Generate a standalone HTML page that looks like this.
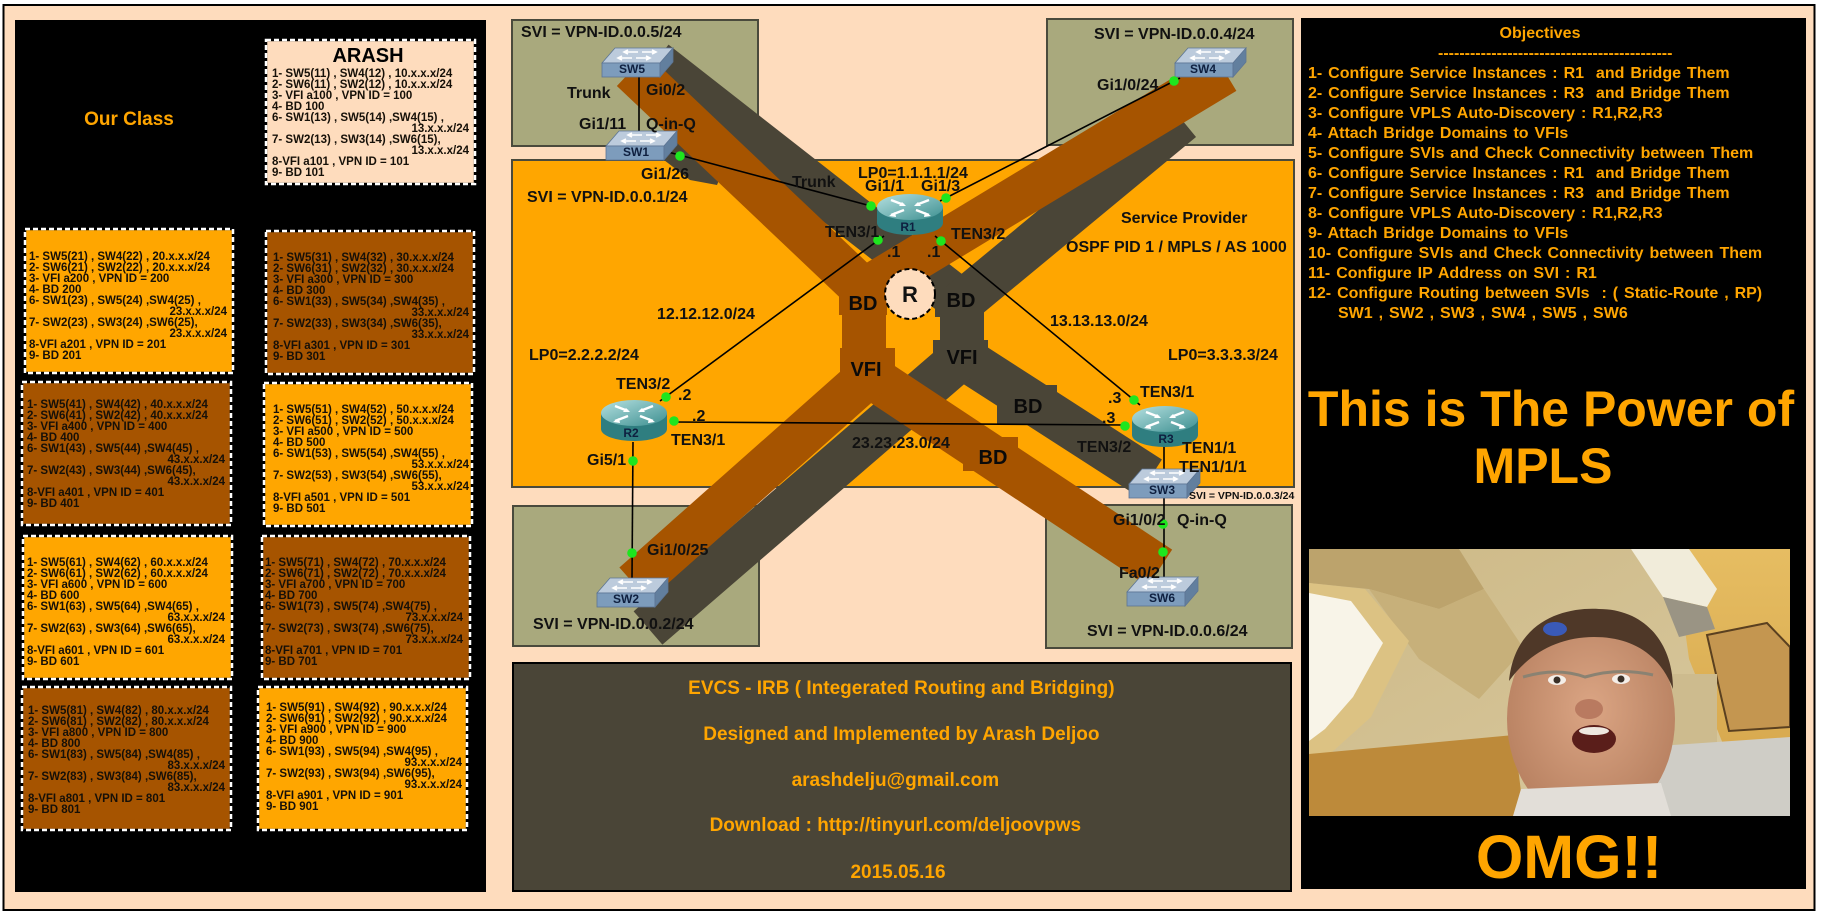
<!DOCTYPE html>
<html><head><meta charset="utf-8">
<style>
html,body{margin:0;padding:0;background:#fff;}
svg{display:block;}
text{font-family:"Liberation Sans",Arial,sans-serif;font-weight:bold;}
.t{font-size:11.5px;fill:#161008;}
.d{font-size:16px;fill:#111;}
.o{font-size:16px;fill:#ffa500;word-spacing:1.5px;}
.i{font-size:19px;fill:#ffa500;}
.s{font-size:12px;fill:#0e1f3f;}
.b{font-size:20px;fill:#0a0a0a;}
</style></head><body>
<svg width="1844" height="915" viewBox="0 0 1844 915" xmlns="http://www.w3.org/2000/svg">
<defs>
 <g id="sw">
  <polygon points="13,1 71,1 58,16 0,16" fill="#bccbdc" stroke="#5d7594" stroke-width="0.8"/>
  <rect x="0" y="16" width="58" height="14" fill="#7d9cbc" stroke="#5d7594" stroke-width="0.8"/>
  <polygon points="58,16 71,1 71,15 58,30" fill="#627f9e" stroke="#5d7594" stroke-width="0.8"/>
  <path d="M22,5 h14 M26,3 l-4,2 l4,2 M40,5 h14 M50,3 l4,2 l-4,2 M16,11 h14 M20,9 l-4,2 l4,2 M34,11 h14 M44,9 l4,2 l-4,2" stroke="#fff" stroke-width="1.6" fill="none"/>
 </g>
 <linearGradient id="rg" x1="0" y1="0" x2="1" y2="1">
  <stop offset="0" stop-color="#b5e0e0"/><stop offset="1" stop-color="#3d8f90"/>
 </linearGradient>
 <g id="rt">
  <path d="M0,14 V30 A33,12 0 0 0 66,30 V14 Z" fill="#2f7e80"/>
  <ellipse cx="33" cy="14" rx="33" ry="13" fill="url(#rg)"/>
  <path d="M14,7 L27,12 M52,7 L39,12 M27,17 L14,22 M39,17 L52,22" stroke="#fff" stroke-width="2.4" fill="none"/>
  <polygon points="29,13 22,13 25,9" fill="#fff"/>
  <polygon points="37,13 44,13 41,9" fill="#fff"/>
  <polygon points="12,23 18,19 19,24" fill="#fff"/>
  <polygon points="54,23 48,19 47,24" fill="#fff"/>
 </g>
 <linearGradient id="ceil" x1="0" y1="0" x2="1" y2="1">
  <stop offset="0" stop-color="#cdb986"/><stop offset="1" stop-color="#d9c9a0"/>
 </linearGradient>
 <linearGradient id="wall" x1="0" y1="0" x2="0" y2="1">
  <stop offset="0" stop-color="#e6bd62"/><stop offset="1" stop-color="#d7a84e"/>
 </linearGradient>
 <radialGradient id="skin" cx="0.5" cy="0.45" r="0.6">
  <stop offset="0" stop-color="#dba584"/><stop offset="1" stop-color="#b57e5e"/>
 </radialGradient>
 <clipPath id="pc"><rect width="481" height="267"/></clipPath>
</defs>

<!-- outer frame -->
<rect x="0" y="0" width="1844" height="915" fill="#fff"/>
<rect x="3.5" y="5" width="1811" height="905" fill="#fedcbd" stroke="#000" stroke-width="2"/>

<!-- LEFT PANEL -->
<rect x="15" y="20" width="471" height="872" fill="#000"/>
<text x="129" y="125" text-anchor="middle" style="font-size:19px;fill:#ffa500">Our Class</text>

<g stroke-width="2.5">
<rect x="266" y="40" width="209" height="144" fill="#fedcbd" stroke="#000"/>
<rect x="266" y="40" width="209" height="144" fill="none" stroke="#fff" stroke-dasharray="5,3"/>
<rect x="25" y="229" width="208" height="144" fill="#ffa600" stroke="#000"/>
<rect x="25" y="229" width="208" height="144" fill="none" stroke="#fff" stroke-dasharray="5,3"/>
<rect x="266" y="231" width="208" height="143" fill="#a65400" stroke="#000"/>
<rect x="266" y="231" width="208" height="143" fill="none" stroke="#fff" stroke-dasharray="5,3"/>
<rect x="22" y="382" width="209" height="143" fill="#a65400" stroke="#000"/>
<rect x="22" y="382" width="209" height="143" fill="none" stroke="#fff" stroke-dasharray="5,3"/>
<rect x="264" y="383" width="208" height="143" fill="#ffa600" stroke="#000"/>
<rect x="264" y="383" width="208" height="143" fill="none" stroke="#fff" stroke-dasharray="5,3"/>
<rect x="23" y="536" width="209" height="143" fill="#ffa600" stroke="#000"/>
<rect x="23" y="536" width="209" height="143" fill="none" stroke="#fff" stroke-dasharray="5,3"/>
<rect x="262" y="536" width="208" height="143" fill="#a65400" stroke="#000"/>
<rect x="262" y="536" width="208" height="143" fill="none" stroke="#fff" stroke-dasharray="5,3"/>
<rect x="22" y="687" width="209" height="143" fill="#a65400" stroke="#000"/>
<rect x="22" y="687" width="209" height="143" fill="none" stroke="#fff" stroke-dasharray="5,3"/>
<rect x="258" y="687" width="209" height="143" fill="#ffa600" stroke="#000"/>
<rect x="258" y="687" width="209" height="143" fill="none" stroke="#fff" stroke-dasharray="5,3"/>
</g>

<text x="368" y="62" text-anchor="middle" style="font-size:20px;fill:#000">ARASH</text>
<text class="t" xml:space="preserve"><tspan x="272" y="77">1- SW5(11) , SW4(12) , 10.x.x.x/24</tspan><tspan x="272" y="88">2- SW6(11) , SW2(12) , 10.x.x.x/24</tspan><tspan x="272" y="99">3- VFI a100 , VPN ID = 100</tspan><tspan x="272" y="110">4- BD 100</tspan><tspan x="272" y="121">6- SW1(13) , SW5(14) ,SW4(15) ,</tspan><tspan x="469" y="132" text-anchor="end">13.x.x.x/24</tspan><tspan x="272" y="143">7- SW2(13) , SW3(14) ,SW6(15),</tspan><tspan x="469" y="154" text-anchor="end">13.x.x.x/24</tspan><tspan x="272" y="165">8-VFI a101 , VPN ID = 101</tspan><tspan x="272" y="176">9- BD 101</tspan></text>

<text class="t"><tspan x="29" y="260">1- SW5(21) , SW4(22) , 20.x.x.x/24</tspan><tspan x="29" y="271">2- SW6(21) , SW2(22) , 20.x.x.x/24</tspan><tspan x="29" y="282">3- VFI a200 , VPN ID = 200</tspan><tspan x="29" y="293">4- BD 200</tspan><tspan x="29" y="304">6- SW1(23) , SW5(24) ,SW4(25) ,</tspan><tspan x="227" y="315" text-anchor="end">23.x.x.x/24</tspan><tspan x="29" y="326">7- SW2(23) , SW3(24) ,SW6(25),</tspan><tspan x="227" y="337" text-anchor="end">23.x.x.x/24</tspan><tspan x="29" y="348">8-VFI a201 , VPN ID = 201</tspan><tspan x="29" y="359">9- BD 201</tspan></text>

<text class="t"><tspan x="273" y="261">1- SW5(31) , SW4(32) , 30.x.x.x/24</tspan><tspan x="273" y="272">2- SW6(31) , SW2(32) , 30.x.x.x/24</tspan><tspan x="273" y="283">3- VFI a300 , VPN ID = 300</tspan><tspan x="273" y="294">4- BD 300</tspan><tspan x="273" y="305">6- SW1(33) , SW5(34) ,SW4(35) ,</tspan><tspan x="469" y="316" text-anchor="end">33.x.x.x/24</tspan><tspan x="273" y="327">7- SW2(33) , SW3(34) ,SW6(35),</tspan><tspan x="469" y="338" text-anchor="end">33.x.x.x/24</tspan><tspan x="273" y="349">8-VFI a301 , VPN ID = 301</tspan><tspan x="273" y="360">9- BD 301</tspan></text>

<text class="t"><tspan x="27" y="408">1- SW5(41) , SW4(42) , 40.x.x.x/24</tspan><tspan x="27" y="419">2- SW6(41) , SW2(42) , 40.x.x.x/24</tspan><tspan x="27" y="430">3- VFI a400 , VPN ID = 400</tspan><tspan x="27" y="441">4- BD 400</tspan><tspan x="27" y="452">6- SW1(43) , SW5(44) ,SW4(45) ,</tspan><tspan x="225" y="463" text-anchor="end">43.x.x.x/24</tspan><tspan x="27" y="474">7- SW2(43) , SW3(44) ,SW6(45),</tspan><tspan x="225" y="485" text-anchor="end">43.x.x.x/24</tspan><tspan x="27" y="496">8-VFI a401 , VPN ID = 401</tspan><tspan x="27" y="507">9- BD 401</tspan></text>

<text class="t"><tspan x="273" y="413">1- SW5(51) , SW4(52) , 50.x.x.x/24</tspan><tspan x="273" y="424">2- SW6(51) , SW2(52) , 50.x.x.x/24</tspan><tspan x="273" y="435">3- VFI a500 , VPN ID = 500</tspan><tspan x="273" y="446">4- BD 500</tspan><tspan x="273" y="457">6- SW1(53) , SW5(54) ,SW4(55) ,</tspan><tspan x="469" y="468" text-anchor="end">53.x.x.x/24</tspan><tspan x="273" y="479">7- SW2(53) , SW3(54) ,SW6(55),</tspan><tspan x="469" y="490" text-anchor="end">53.x.x.x/24</tspan><tspan x="273" y="501">8-VFI a501 , VPN ID = 501</tspan><tspan x="273" y="512">9- BD 501</tspan></text>

<text class="t"><tspan x="27" y="566">1- SW5(61) , SW4(62) , 60.x.x.x/24</tspan><tspan x="27" y="577">2- SW6(61) , SW2(62) , 60.x.x.x/24</tspan><tspan x="27" y="588">3- VFI a600 , VPN ID = 600</tspan><tspan x="27" y="599">4- BD 600</tspan><tspan x="27" y="610">6- SW1(63) , SW5(64) ,SW4(65) ,</tspan><tspan x="225" y="621" text-anchor="end">63.x.x.x/24</tspan><tspan x="27" y="632">7- SW2(63) , SW3(64) ,SW6(65),</tspan><tspan x="225" y="643" text-anchor="end">63.x.x.x/24</tspan><tspan x="27" y="654">8-VFI a601 , VPN ID = 601</tspan><tspan x="27" y="665">9- BD 601</tspan></text>

<text class="t"><tspan x="265" y="566">1- SW5(71) , SW4(72) , 70.x.x.x/24</tspan><tspan x="265" y="577">2- SW6(71) , SW2(72) , 70.x.x.x/24</tspan><tspan x="265" y="588">3- VFI a700 , VPN ID = 700</tspan><tspan x="265" y="599">4- BD 700</tspan><tspan x="265" y="610">6- SW1(73) , SW5(74) ,SW4(75) ,</tspan><tspan x="463" y="621" text-anchor="end">73.x.x.x/24</tspan><tspan x="265" y="632">7- SW2(73) , SW3(74) ,SW6(75),</tspan><tspan x="463" y="643" text-anchor="end">73.x.x.x/24</tspan><tspan x="265" y="654">8-VFI a701 , VPN ID = 701</tspan><tspan x="265" y="665">9- BD 701</tspan></text>

<text class="t"><tspan x="28" y="714">1- SW5(81) , SW4(82) , 80.x.x.x/24</tspan><tspan x="28" y="725">2- SW6(81) , SW2(82) , 80.x.x.x/24</tspan><tspan x="28" y="736">3- VFI a800 , VPN ID = 800</tspan><tspan x="28" y="747">4- BD 800</tspan><tspan x="28" y="758">6- SW1(83) , SW5(84) ,SW4(85) ,</tspan><tspan x="225" y="769" text-anchor="end">83.x.x.x/24</tspan><tspan x="28" y="780">7- SW2(83) , SW3(84) ,SW6(85),</tspan><tspan x="225" y="791" text-anchor="end">83.x.x.x/24</tspan><tspan x="28" y="802">8-VFI a801 , VPN ID = 801</tspan><tspan x="28" y="813">9- BD 801</tspan></text>

<text class="t"><tspan x="266" y="711">1- SW5(91) , SW4(92) , 90.x.x.x/24</tspan><tspan x="266" y="722">2- SW6(91) , SW2(92) , 90.x.x.x/24</tspan><tspan x="266" y="733">3- VFI a900 , VPN ID = 900</tspan><tspan x="266" y="744">4- BD 900</tspan><tspan x="266" y="755">6- SW1(93) , SW5(94) ,SW4(95) ,</tspan><tspan x="462" y="766" text-anchor="end">93.x.x.x/24</tspan><tspan x="266" y="777">7- SW2(93) , SW3(94) ,SW6(95),</tspan><tspan x="462" y="788" text-anchor="end">93.x.x.x/24</tspan><tspan x="266" y="799">8-VFI a901 , VPN ID = 901</tspan><tspan x="266" y="810">9- BD 901</tspan></text>

<!-- MIDDLE DIAGRAM: boxes -->
<g stroke="#4a4a3c" stroke-width="2">
<rect x="512" y="20" width="246" height="126" fill="#a9a97d"/>
<rect x="1047" y="19" width="246" height="126" fill="#a9a97d"/>
<rect x="512" y="160" width="782" height="327" fill="#ffa600"/>
<rect x="513" y="506" width="246" height="140" fill="#a9a97d"/>
<rect x="1046" y="505" width="246" height="143" fill="#a9a97d"/>
</g>

<!-- bands -->
<g fill="none" stroke-linejoin="round" stroke-linecap="butt">
<polyline points="655,62 962,302 962,357 1150,478" stroke="#4a4537" stroke-width="44"/>
<polyline points="1182,120 962,302 962,357 648,628" stroke="#4a4537" stroke-width="44"/>
</g>
<polygon points="662,135 700,135 724,168 717,185 690,180 664,160" fill="#4a4537"/>
<g fill="none" stroke-linejoin="round" stroke-linecap="butt">
<polyline points="632,70 864,290 864,372 1160,568" stroke="#a65400" stroke-width="44"/>
<polyline points="1225,72 864,290 864,380 634,584" stroke="#a65400" stroke-width="44"/>
</g>

<!-- BD / VFI label boxes -->
<rect x="839" y="287" width="48" height="28" fill="#a65400"/>
<rect x="840" y="348" width="55" height="40" fill="#a65400"/>
<rect x="935" y="287" width="48" height="30" fill="#4a4537"/>
<rect x="933" y="340" width="55" height="38" fill="#4a4537"/>
<rect x="997" y="385" width="60" height="39" fill="#4a4537"/>
<rect x="963" y="437" width="55" height="34" fill="#a65400"/>

<!-- thin connector lines -->
<g stroke="#000" stroke-width="1.6" fill="none">
<line x1="639" y1="77" x2="639" y2="131"/>
<line x1="668" y1="152" x2="871" y2="206"/>
<line x1="940" y1="201" x2="1180" y2="78"/>
<line x1="884" y1="236" x2="660" y2="401"/>
<line x1="935" y1="236" x2="1140" y2="405"/>
<line x1="674" y1="422" x2="1125" y2="425"/>
<line x1="633" y1="442" x2="632" y2="578"/>
<line x1="1164" y1="445" x2="1164" y2="470"/>
<line x1="1164" y1="497" x2="1164" y2="577"/>
</g>

<!-- devices -->
<use href="#sw" x="602" y="47"/>
<use href="#sw" x="606" y="130"/>
<use href="#sw" x="1175" y="47"/>
<use href="#sw" x="597" y="577"/>
<use href="#sw" x="1129" y="468"/>
<use href="#sw" x="1127" y="576"/>
<use href="#rt" x="877" y="193"/>
<use href="#rt" x="601" y="399"/>
<use href="#rt" x="1132" y="405"/>

<text class="s" text-anchor="middle"><tspan x="632" y="73">SW5</tspan><tspan x="636" y="156">SW1</tspan><tspan x="1203" y="73">SW4</tspan><tspan x="626" y="603">SW2</tspan><tspan x="1162" y="494">SW3</tspan><tspan x="1162" y="602">SW6</tspan></text>
<text class="s" text-anchor="middle"><tspan x="908" y="231">R1</tspan><tspan x="631" y="437">R2</tspan><tspan x="1166" y="443">R3</tspan></text>

<!-- green dots -->
<g fill="#1ee61e">
<circle cx="680" cy="156" r="4.8"/><circle cx="871" cy="206" r="4.8"/><circle cx="946" cy="198" r="4.8"/>
<circle cx="878" cy="240" r="4.8"/><circle cx="941" cy="241" r="4.8"/><circle cx="1174" cy="81" r="4.8"/>
<circle cx="666" cy="397" r="4.8"/><circle cx="674" cy="421" r="4.8"/><circle cx="633" cy="461" r="4.8"/>
<circle cx="632" cy="553" r="4.8"/><circle cx="1134" cy="400" r="4.8"/><circle cx="1125" cy="426" r="4.8"/>
<circle cx="1163" cy="524" r="4.8"/><circle cx="1163" cy="552" r="4.8"/>
</g>

<!-- R circle -->
<circle cx="910" cy="294" r="25" fill="#fedcbd" stroke="#000" stroke-width="2" stroke-dasharray="5,3"/>
<text x="910" y="302" text-anchor="middle" style="font-size:22px;fill:#111">R</text>

<!-- BD / VFI labels -->
<text class="b" text-anchor="middle"><tspan x="863" y="310">BD</tspan><tspan x="866" y="376">VFI</tspan><tspan x="961" y="307">BD</tspan><tspan x="962" y="364">VFI</tspan><tspan x="1028" y="413">BD</tspan><tspan x="993" y="464">BD</tspan></text>

<!-- diagram labels -->
<text class="d">
<tspan x="521" y="37">SVI = VPN-ID.0.0.5/24</tspan>
<tspan x="567" y="98">Trunk</tspan>
<tspan x="646" y="95">Gi0/2</tspan>
<tspan x="579" y="129">Gi1/11</tspan>
<tspan x="646" y="129">Q-in-Q</tspan>
<tspan x="641" y="179">Gi1/26</tspan>
<tspan x="527" y="202">SVI = VPN-ID.0.0.1/24</tspan>
<tspan x="792" y="187">Trunk</tspan>
<tspan x="858" y="178">LP0=1.1.1.1/24</tspan>
<tspan x="865" y="191">Gi1/1</tspan>
<tspan x="921" y="191">Gi1/3</tspan>
<tspan x="825" y="237">TEN3/1</tspan>
<tspan x="887" y="257">.1</tspan>
<tspan x="927" y="257">.1</tspan>
<tspan x="951" y="239">TEN3/2</tspan>
<tspan x="1094" y="39">SVI = VPN-ID.0.0.4/24</tspan>
<tspan x="1097" y="90">Gi1/0/24</tspan>
<tspan x="1121" y="223">Service Provider</tspan>
<tspan x="1066" y="252">OSPF PID 1 / MPLS / AS 1000</tspan>
<tspan x="657" y="319">12.12.12.0/24</tspan>
<tspan x="1050" y="326">13.13.13.0/24</tspan>
<tspan x="529" y="360">LP0=2.2.2.2/24</tspan>
<tspan x="1168" y="360">LP0=3.3.3.3/24</tspan>
<tspan x="616" y="389">TEN3/2</tspan>
<tspan x="678" y="400">.2</tspan>
<tspan x="692" y="421">.2</tspan>
<tspan x="671" y="445">TEN3/1</tspan>
<tspan x="852" y="448">23.23.23.0/24</tspan>
<tspan x="587" y="465">Gi5/1</tspan>
<tspan x="647" y="555">Gi1/0/25</tspan>
<tspan x="533" y="629">SVI = VPN-ID.0.0.2/24</tspan>
<tspan x="1140" y="397">TEN3/1</tspan>
<tspan x="1108" y="403">.3</tspan>
<tspan x="1102" y="423">.3</tspan>
<tspan x="1077" y="452">TEN3/2</tspan>
<tspan x="1182" y="453">TEN1/1</tspan>
<tspan x="1179" y="472">TEN1/1/1</tspan>
<tspan x="1113" y="525">Gi1/0/2</tspan>
<tspan x="1177" y="525">Q-in-Q</tspan>
<tspan x="1119" y="578">Fa0/2</tspan>
<tspan x="1087" y="636">SVI = VPN-ID.0.0.6/24</tspan>
</text>
<text x="1189" y="499" style="font-size:10.5px;fill:#111">SVI = VPN-ID.0.0.3/24</text>

<!-- info box -->
<rect x="513" y="663" width="778" height="228" fill="#4a4537" stroke="#000" stroke-width="2"/>
<text class="i" text-anchor="middle">
<tspan x="904" y="694">EVCS - IRB ( Integerated Routing and Bridging)</tspan>
<tspan x="904" y="740">Designed and Implemented by Arash Deljoo</tspan>
<tspan x="898" y="786">arashdelju@gmail.com</tspan>
<tspan x="898" y="831">Download : http://tinyurl.com/deljoovpws</tspan>
<tspan x="898" y="878">2015.05.16</tspan>
</text>

<!-- RIGHT PANEL -->
<rect x="1301" y="18" width="505" height="871" fill="#000"/>
<text x="1540" y="38" text-anchor="middle" style="font-size:16px;fill:#ffa500">Objectives</text>
<text x="1438" y="58" style="font-size:16px;fill:#ffa500">--------------------------------------------</text>
<text class="o" xml:space="preserve"><tspan x="1308" y="78">1- Configure Service Instances : R1  and Bridge Them</tspan><tspan x="1308" y="98">2- Configure Service Instances : R3  and Bridge Them</tspan><tspan x="1308" y="118">3- Configure VPLS Auto-Discovery : R1,R2,R3</tspan><tspan x="1308" y="138">4- Attach Bridge Domains to VFIs</tspan><tspan x="1308" y="158">5- Configure SVIs and Check Connectivity between Them</tspan><tspan x="1308" y="178">6- Configure Service Instances : R1  and Bridge Them</tspan><tspan x="1308" y="198">7- Configure Service Instances : R3  and Bridge Them</tspan><tspan x="1308" y="218">8- Configure VPLS Auto-Discovery : R1,R2,R3</tspan><tspan x="1308" y="238">9- Attach Bridge Domains to VFIs</tspan><tspan x="1308" y="258">10- Configure SVIs and Check Connectivity between Them</tspan><tspan x="1308" y="278">11- Configure IP Address on SVI : R1</tspan><tspan x="1308" y="298">12- Configure Routing between SVIs  : ( Static-Route , RP)</tspan><tspan x="1338" y="318">SW1 , SW2 , SW3 , SW4 , SW5 , SW6</tspan></text>

<text x="1551" y="426" text-anchor="middle" style="font-size:50px;fill:#ffa500">This is The Power of</text>
<text x="1543" y="483" text-anchor="middle" style="font-size:50px;fill:#ffa500">MPLS</text>

<!-- photo approximation -->
<g transform="translate(1309,549)">
 <g clip-path="url(#pc)">
  <rect width="481" height="267" fill="url(#ceil)"/>
  <polygon points="0,0 150,0 175,40 130,60 60,40 0,34" fill="#bca36c"/>
  <polygon points="60,40 130,60 175,40 215,100 170,150 110,110" fill="#c7b07a"/>
  <polygon points="0,34 56,40 100,92 62,168 22,204 0,214" fill="#dcc283"/>
  <polygon points="0,44 42,52 74,94 44,148 16,180 0,192" fill="#f8f4e8"/>
  <polygon points="365,0 481,0 481,215 418,205 380,110" fill="url(#wall)"/>
  <polygon points="322,0 380,0 408,40 398,58 354,48" fill="#f1ecda"/>
  <polygon points="354,48 398,58 406,80 370,88" fill="#9a9484"/>
  <polygon points="398,86 458,74 481,98 481,178 420,182" fill="#c49650" stroke="#5a4020" stroke-width="2"/>
  <rect x="348" y="125" width="60" height="95" fill="#cdbb8e"/>
  <polygon points="0,205 205,186 215,267 0,267" fill="#bd8a3a"/>
  <polygon points="335,198 481,188 481,267 343,267" fill="#cfcdc6"/>
  <ellipse cx="282" cy="170" rx="84" ry="106" fill="url(#skin)"/>
  <path d="M200,132 C206,70 258,58 290,60 C334,60 364,92 364,140 C350,104 322,88 285,88 C250,88 220,104 200,132Z" fill="#4f3828"/>
  <polygon points="212,240 352,234 362,267 204,267" fill="#e2ded8"/>
  <ellipse cx="246" cy="80" rx="12" ry="7" fill="#3a5ab8"/>
  <path d="M214,128 Q248,118 276,128 Q310,118 344,126" stroke="#8a8272" stroke-width="3" fill="none"/>
  <ellipse cx="248" cy="131" rx="9" ry="5" fill="#f4eee8"/>
  <ellipse cx="312" cy="130" rx="9" ry="5" fill="#f4eee8"/>
  <circle cx="248" cy="131" r="3.5" fill="#3a3028"/>
  <circle cx="312" cy="130" r="3.5" fill="#3a3028"/>
  <ellipse cx="280" cy="160" rx="14" ry="10" fill="#b97a60"/>
  <ellipse cx="285" cy="190" rx="22" ry="14" fill="#5a1e1a"/>
  <ellipse cx="285" cy="182" rx="15" ry="4" fill="#eee8e0"/>
 </g>
</g>

<text x="1569" y="878" text-anchor="middle" style="font-size:61px;fill:#ffa500">OMG!!</text>
</svg>
</body></html>
